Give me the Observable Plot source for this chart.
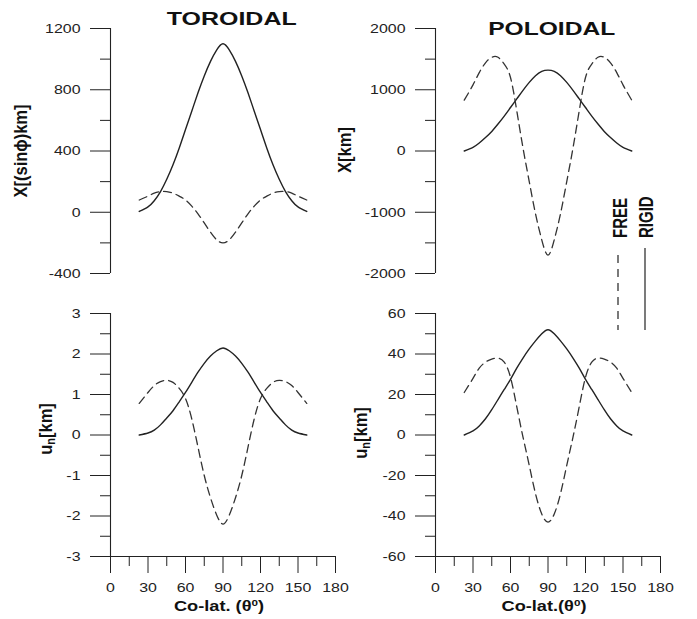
<!DOCTYPE html>
<html><head><meta charset="utf-8">
<script src="https://cdn.jsdelivr.net/npm/d3@7"></script>
<script src="https://cdn.jsdelivr.net/npm/@observablehq/plot@0.6"></script>
<style>
body{margin:0;background:#fff;}
#chart{position:relative;width:697px;height:619px;overflow:hidden;background:#fff;font-family:"Liberation Sans",Arial,sans-serif;}
#chart svg{position:absolute;overflow:visible;}
</style></head><body><div id="chart"></div>
<script>
// Co-latitude (degrees)
const theta = [23,30,35,40,45,50,55,60,65,70,75,80,85,90,95,100,105,110,115,120,125,130,135,140,145,150,157];

// TOROIDAL X[(sinφ)km]
const torX_rigid = [5,35,75,135,215,310,420,540,660,780,890,985,1060,1100,1060,985,890,780,660,540,420,310,215,135,75,35,5];
const torX_free  = [80,105,125,135,135,125,105,80,40,-10,-70,-130,-180,-200,-180,-130,-70,-10,40,80,105,125,135,135,125,105,80];
// POLOIDAL X[km]
const polX_rigid = [0,60,130,220,320,440,570,710,850,990,1120,1230,1300,1320,1300,1230,1120,990,850,710,570,440,320,220,130,60,0];
const polX_free  = [830,1080,1280,1440,1530,1530,1420,1200,660,50,-500,-1025,-1450,-1700,-1450,-1025,-500,50,660,1200,1420,1530,1530,1440,1280,1080,830];
// TOROIDAL u_n[km]
const torU_rigid = [0,0.05,0.12,0.25,0.42,0.6,0.82,1.05,1.3,1.55,1.77,1.95,2.08,2.15,2.08,1.95,1.77,1.55,1.3,1.05,0.82,0.6,0.42,0.25,0.12,0.05,0];
const torU_free  = [0.78,1.05,1.22,1.32,1.35,1.3,1.15,0.9,0.4,-0.3,-1.0,-1.55,-1.98,-2.2,-1.98,-1.55,-1.0,-0.3,0.4,0.9,1.15,1.3,1.35,1.32,1.22,1.05,0.78];
// POLOIDAL u_n[km]
const polU_rigid = [0,2,4.5,8,12.5,17.5,22.5,27.5,33,38,42.5,46.5,50,52,50,46.5,42.5,38,33,27.5,22.5,17.5,12.5,8,4.5,2,0];
const polU_free  = [21,28,33,36,37.5,38,36,28.5,14,-1,-15,-29,-39,-43,-39,-29,-15,-1,14,28.5,36,38,37.5,36,33,28,21];

// Axis ticks
const xMajor = [0,30,60,90,120,150,180];
const xMinor = [15,45,75,105,135,165];
const torX_major = [-400,0,400,800,1200], torX_minor = [-200,200,600,1000];
const polX_major = [-2000,-1000,0,1000,2000], polX_minor = [-1500,-500,500,1500];
const torU_major = [-3,-2,-1,0,1,2,3], torU_minor = [-2.5,-1.5,-0.5,0.5,1.5,2.5];
const polU_major = [-60,-40,-20,0,20,40,60], polU_minor = [-50,-30,-10,10,30,50];

// Labels
const titles = ["TOROIDAL","POLOIDAL"];
const legendLabels = ["FREE","RIGID"];

const ink = "#222";
const chart = document.getElementById("chart");

function stretch(svg, s){
  svg.querySelectorAll("text").forEach(t=>{
    const tr = t.getAttribute("transform")||"";
    const x = +(t.getAttribute("x")||0) || 0;
    t.setAttribute("transform", `${tr} translate(${x},0) scale(${s},1) translate(${-x},0)`);
  });
}

function panel(o){
  const data = theta.map((t,i)=>({t, rigid:o.rigid[i], free:o.free[i]}));
  const marks = [
    Plot.ruleX([0], {stroke: ink, strokeWidth: 1.1}),
    Plot.axisY(o.major, {anchor:"left", tickSize:20, tickPadding:10, tickFormat:d=>String(d), label:null, fontSize:13.5}),
    Plot.axisY(o.minor, {anchor:"left", tickSize:10, tickFormat:()=>"", label:null}),
    Plot.line(data, {x:"t", y:"rigid", curve:"natural", stroke:ink, strokeWidth:1.4}),
    Plot.line(data, {x:"t", y:"free", curve:"natural", stroke:"#333", strokeWidth:1.3, strokeDasharray:"8,5"})
  ];
  if (o.xAxis) {
    marks.push(
      Plot.ruleY([o.domain[0]], {stroke: ink, strokeWidth: 1.1}),
      Plot.axisX(xMajor, {anchor:"bottom", tickSize:17, tickPadding:9, tickFormat:d=>String(d), label:null, fontSize:13.5}),
      Plot.axisX(xMinor, {anchor:"bottom", tickSize:10, tickFormat:()=>"", label:null})
    );
  }
  const svg = Plot.plot({
    width: 345, height: o.h,
    marginLeft: 110, marginRight: 10, marginTop: o.mT, marginBottom: o.mB,
    x: {domain:[0,180], axis: o.xAxis ? undefined : null},
    y: {domain: o.domain},
    style: {background:"transparent", fontFamily:"Liberation Sans, Arial, sans-serif", fontSize:"13.5px", color:"#222", overflow:"visible"},
    marks
  });
  svg.style.left = o.left + "px";
  svg.style.top = o.top + "px";
  stretch(svg, 1.18);
  chart.appendChild(svg);
}

panel({rigid:torX_rigid, free:torX_free, domain:[-400,1200], major:torX_major, minor:torX_minor, left:0, top:0, h:300, mT:28, mB:27, xAxis:false});
panel({rigid:polX_rigid, free:polX_free, domain:[-2000,2000], major:polX_major, minor:polX_minor, left:325, top:0, h:300, mT:28, mB:27, xAxis:false});
panel({rigid:torU_rigid, free:torU_free, domain:[-3,3], major:torU_major, minor:torU_minor, left:0, top:290, h:329, mT:23, mB:63, xAxis:true});
panel({rigid:polU_rigid, free:polU_free, domain:[-60,60], major:polU_major, minor:polU_minor, left:325, top:290, h:329, mT:23, mB:63, xAxis:true});

// Overlay: titles, axis labels, legend
const ns = "http://www.w3.org/2000/svg";
const ov = document.createElementNS(ns, "svg");
ov.setAttribute("width", 697); ov.setAttribute("height", 619);
ov.style.left = "0px"; ov.style.top = "0px";
ov.setAttribute("font-family", "Liberation Sans, Arial, sans-serif");
ov.setAttribute("font-weight", "bold");
ov.setAttribute("fill", "#111");
ov.innerHTML = `
  <text transform="translate(231.7,25) scale(1.35,1)" text-anchor="middle" font-size="18.5">${titles[0]}</text>
  <text transform="translate(551.7,35) scale(1.33,1)" text-anchor="middle" font-size="18.5">${titles[1]}</text>
  <text transform="translate(27,151) rotate(-90) scale(1,1.15)" text-anchor="middle" font-size="16.5">X[(sinϕ)km]</text>
  <text transform="translate(351,150) rotate(-90) scale(1,1.15)" text-anchor="middle" font-size="16.5">X[km]</text>
  <text transform="translate(52,429) rotate(-90) scale(1,1.15)" text-anchor="middle" font-size="16.5">u<tspan dy="3" font-size="11">n</tspan><tspan dy="-3">[km]</tspan></text>
  <text transform="translate(367,433) rotate(-90) scale(1,1.15)" text-anchor="middle" font-size="16.5">u<tspan dy="3" font-size="11">n</tspan><tspan dy="-3">[km]</tspan></text>
  <text transform="translate(219,611) scale(1.3,1)" text-anchor="middle" font-size="14">Co-lat. (θ<tspan dy="-5" font-size="9">0</tspan><tspan dy="5">)</tspan></text>
  <text transform="translate(544,611) scale(1.3,1)" text-anchor="middle" font-size="14">Co-lat.(θ<tspan dy="-5" font-size="9">0</tspan><tspan dy="5">)</tspan></text>
  <text transform="translate(626.5,238) rotate(-90) scale(1,1.35)" font-size="15">${legendLabels[0]}</text>
  <text transform="translate(653,238) rotate(-90) scale(1,1.35)" font-size="15">${legendLabels[1]}</text>
  <line x1="618" x2="618" y1="255" y2="330" stroke="#333" stroke-width="1.3" stroke-dasharray="8,6"/>
  <line x1="645" x2="645" y1="248" y2="330" stroke="#333" stroke-width="1.3"/>
`;
chart.appendChild(ov);
</script>
</body></html>
